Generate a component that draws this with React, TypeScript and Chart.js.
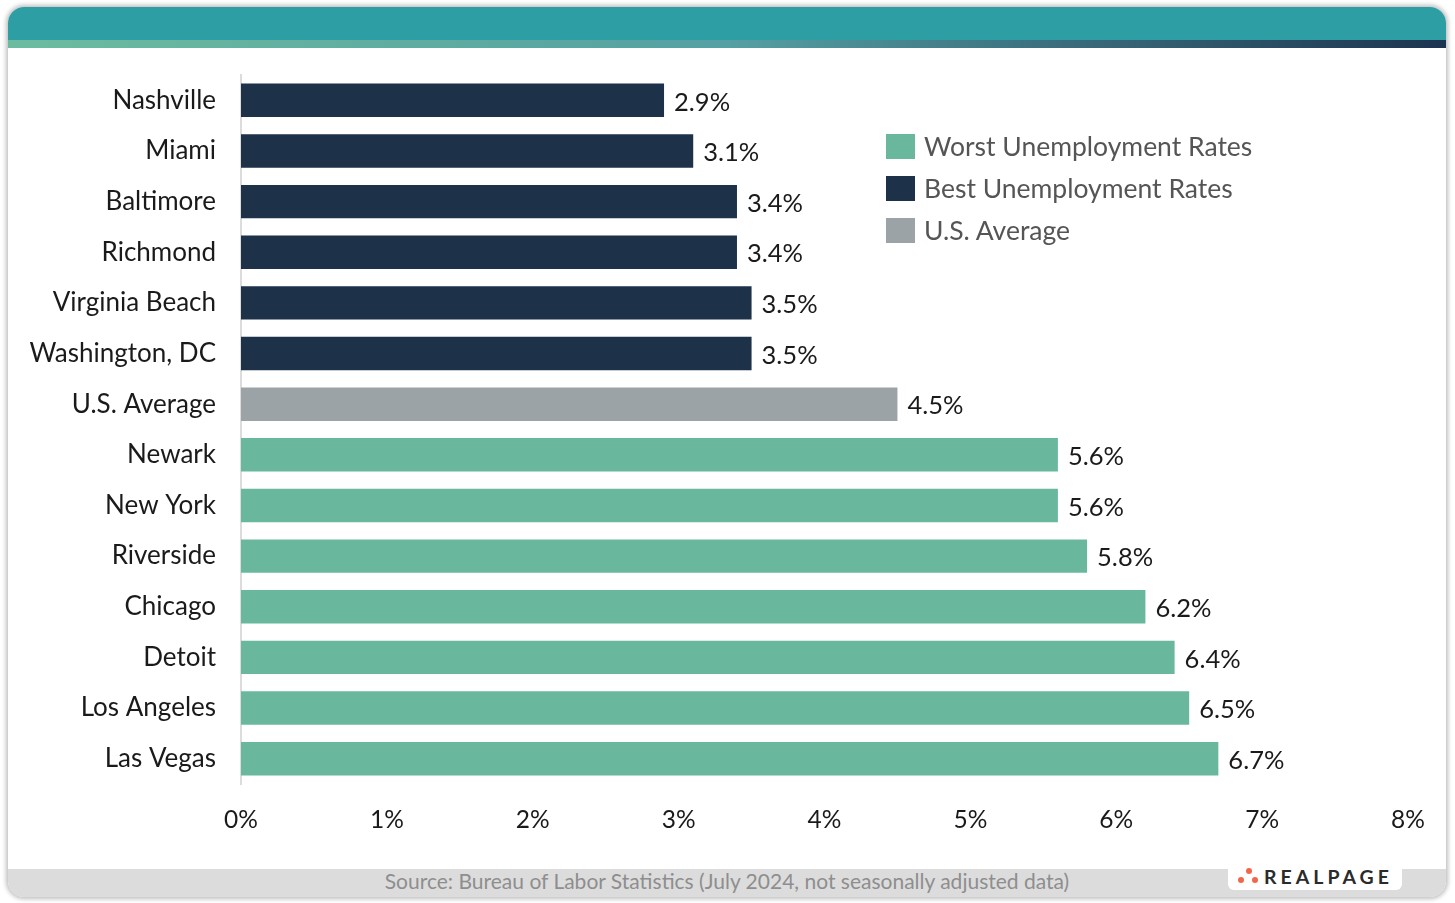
import React, { useEffect, useRef } from "react";
import { Chart, registerables } from "chart.js";

Chart.register(...registerables);

const categories = [
  "Nashville", "Miami", "Baltimore", "Richmond", "Virginia Beach", "Washington, DC",
  "U.S. Average", "Newark", "New York", "Riverside", "Chicago", "Detoit", "Los Angeles", "Las Vegas",
];
const rates = [2.9, 3.1, 3.4, 3.4, 3.5, 3.5, 4.5, 5.6, 5.6, 5.8, 6.2, 6.4, 6.5, 6.7];
const groups = ["best", "best", "best", "best", "best", "best", "avg", "worst", "worst", "worst", "worst", "worst", "worst", "worst"];
const xTicks = [0, 1, 2, 3, 4, 5, 6, 7, 8];

const COLORS: Record<string, string> = { best: "#1d3149", avg: "#9ba3a6", worst: "#69b89e" };
const legendItems = [
  { label: "Worst Unemployment Rates", color: COLORS.worst },
  { label: "Best Unemployment Rates", color: COLORS.best },
  { label: "U.S. Average", color: COLORS.avg },
];

const FONT = "Lato, 'Open Sans', sans-serif";

const valueLabels = {
  id: "valueLabels",
  afterDatasetsDraw(chart: any) {
    const { ctx } = chart;
    const meta = chart.getDatasetMeta(0);
    ctx.save();
    ctx.font = `25.5px ${FONT}`;
    ctx.fillStyle = "#1a1a1a";
    ctx.textAlign = "left";
    ctx.textBaseline = "middle";
    meta.data.forEach((bar: any, i: number) => {
      ctx.fillText(rates[i].toFixed(1) + "%", bar.x + 10, bar.y + 2);
    });
    ctx.restore();
  },
};

export default function App() {
  const ref = useRef<HTMLCanvasElement>(null);
  useEffect(() => {
    if (!ref.current) return;
    const chart = new Chart(ref.current, {
      type: "bar",
      data: {
        labels: categories,
        datasets: [
          {
            data: rates,
            backgroundColor: groups.map((g) => COLORS[g]),
            barPercentage: 0.66,
            categoryPercentage: 1,
          },
        ],
      },
      options: {
        indexAxis: "y",
        animation: false,
        responsive: false,
        maintainAspectRatio: false,
        layout: { padding: { top: 75, right: 47, left: 0, bottom: 0 } },
        plugins: { legend: { display: false }, tooltip: { enabled: false } },
        scales: {
          x: {
            min: 0,
            max: 8,
            afterFit: (s: any) => { s.height = 119; },
            afterBuildTicks: (s: any) => { s.ticks = xTicks.map((v) => ({ value: v })); },
            grid: { display: false, drawTicks: false },
            border: { display: false },
            ticks: {
              padding: 21,
              color: "#1a1a1a",
              font: { family: FONT, size: 24.5 },
              callback: (v: any) => v + "%",
            },
          },
          y: {
            afterFit: (s: any) => { s.width = 241; },
            grid: { display: false, drawTicks: false },
            border: { display: true, color: "#dcdcdc", width: 2 },
            ticks: {
              padding: 25,
              color: "#1a1a1a",
              font: { family: FONT, size: 26 },
            },
          },
        },
      },
      plugins: [valueLabels],
    });
    return () => chart.destroy();
  }, []);

  return (
    <div style={{ position: "absolute", left: 0, top: 0, width: 1455, height: 903, overflow: "hidden", background: "#fff", fontFamily: FONT }}>
      <div
        style={{
          position: "absolute", left: 8, top: 7, width: 1438, height: 890,
          borderRadius: 16, background: "#fff", overflow: "hidden",
          boxShadow: "0 0 4px 2px rgba(0,0,0,0.25)",
        }}
      >
        <div style={{ position: "absolute", left: 0, top: 0, width: "100%", height: 33, background: "#2d9ea4" }} />
        <div style={{ position: "absolute", left: 0, top: 33, width: "100%", height: 8, background: "linear-gradient(to right, #6bbc9f, #55a0a3 50%, #1c3350)" }} />
        <div style={{ position: "absolute", left: 0, top: 862, width: "100%", height: 28, background: "#dcdcdc" }} />
        <div style={{ position: "absolute", left: 0, top: 860, width: "100%", height: 28, lineHeight: "28px", textAlign: "center", color: "#8e8e8e", fontSize: 21 }}>
          Source: Bureau of Labor Statistics (July 2024, not seasonally adjusted data)
        </div>
        <div style={{ position: "absolute", left: 1220, top: 855, width: 174, height: 28, background: "#fff", borderRadius: 6, display: "flex", alignItems: "center", justifyContent: "center" }}>
          <svg width="24" height="18" viewBox="0 0 24 18" style={{ marginRight: 3 }}>
            <circle cx="12" cy="4" r="3" fill="#f0674a" />
            <circle cx="4" cy="13" r="3" fill="#f0674a" />
            <circle cx="18" cy="13" r="3" fill="#f0674a" />
          </svg>
          <span style={{ color: "#2b2b2b", fontSize: 19.5, fontWeight: 700, letterSpacing: 4 }}>REALPAGE</span>
        </div>
      </div>
      <canvas ref={ref} width={1455} height={903} style={{ position: "absolute", left: 0, top: 0, width: 1455, height: 903 }} />
      <div style={{ position: "absolute", left: 886, top: 125, color: "#555" }}>
        {legendItems.map((it) => (
          <div key={it.label} style={{ display: "flex", alignItems: "center", height: 42 }}>
            <div style={{ width: 29, height: 25, background: it.color, marginRight: 9 }} />
            <span style={{ fontSize: 26.5 }}>{it.label}</span>
          </div>
        ))}
      </div>
    </div>
  );
}
